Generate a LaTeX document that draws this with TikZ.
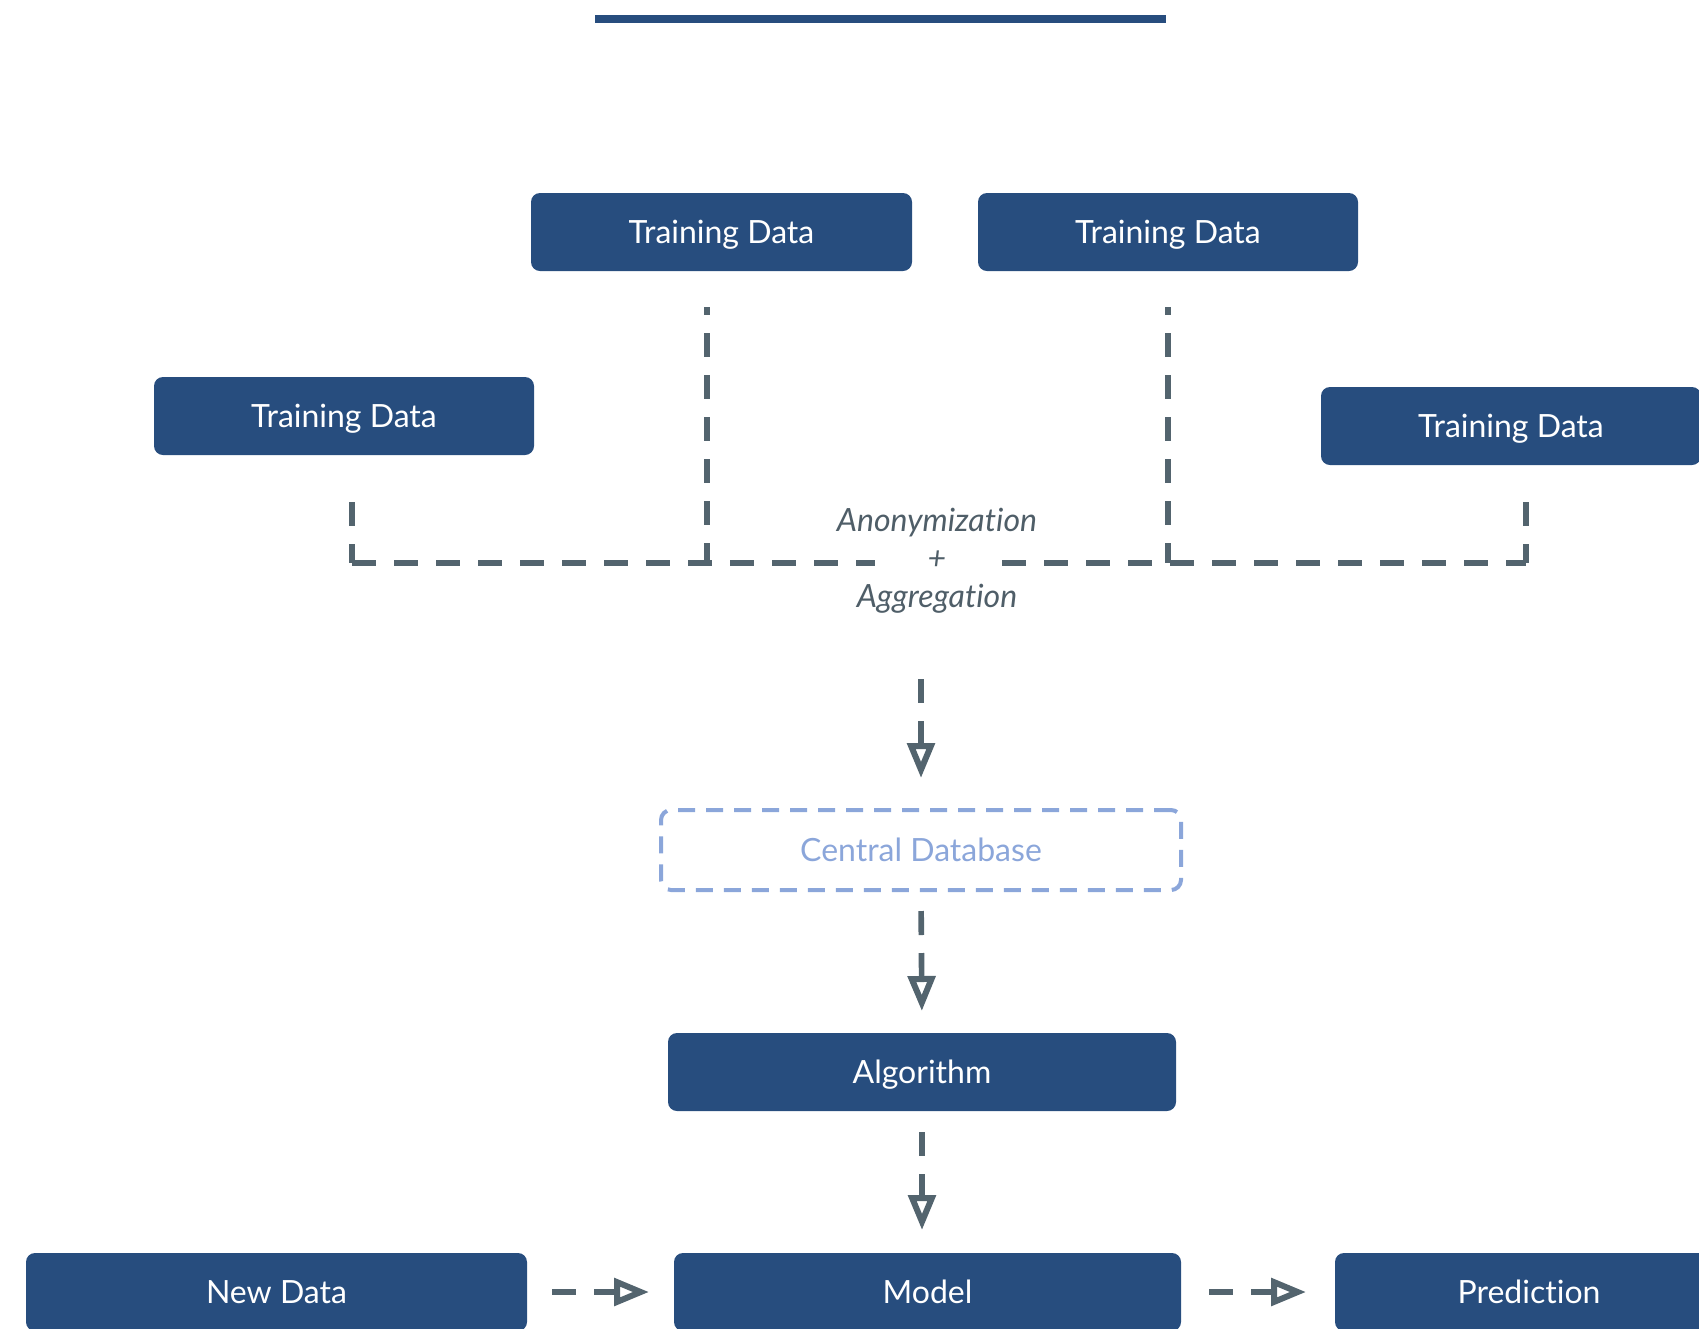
\documentclass[tikz,border=0pt]{standalone}
\usepackage{fontspec}
\setmainfont{Lato}[Ligatures=NoCommon]
\usetikzlibrary{arrows.meta}
\definecolor{boxblue}{HTML}{274D7E}
\definecolor{linegray}{HTML}{53646E}
\definecolor{dbblue}{HTML}{8BA6DA}
\definecolor{labgray}{HTML}{4F5E68}
\begin{document}
\begin{tikzpicture}[x=0.5pt,y=-0.5pt,
  box/.style={fill=boxblue, rounded corners=4.5pt, text=white, minimum height=39pt,
    inner sep=0pt, outer sep=0pt, text height=11.6pt, text depth=0pt,
    font=\fontsize{16}{19}\selectfont},
  bus/.style={draw=linegray, line width=2.9pt, dash pattern=on 12pt off 9pt},
  flow/.style={draw=linegray, line width=2.8pt, dash pattern=on 12pt off 9pt,
    -{Triangle[open, length=17.5pt, width=13.5pt, line width=3pt]}}
]
\useasboundingbox (0,0) rectangle (1699,1329);

% title bar
\fill[boxblue] (595,15) rectangle (1166,23);

% nodes
\node[box, minimum width=190pt] (tdL)  at (344,416)    {Training Data};
\node[box, minimum width=190.5pt] (tdM1) at (721.5,232) {Training Data};
\node[box, minimum width=190pt] (tdM2) at (1168,232)   {Training Data};
\node[box, minimum width=190pt] (tdR)  at (1511,426)   {Training Data};

\node[text=labgray, align=center, inner sep=0pt,
  font=\fontsize{16}{19}\selectfont\itshape] (agg) at (937,561)
  {Anonymization\\+\\Aggregation};

\node[draw=dbblue, line width=2pt, dash pattern=on 8.5pt off 5.5pt, rounded corners=5pt,
  minimum width=260pt, minimum height=40pt, inner sep=0pt, outer sep=0pt, text=dbblue,
  text height=11.6pt, text depth=0pt,
  font=\fontsize{16}{19}\selectfont] (cdb) at (921,850) {Central Database};

\node[box, minimum width=254pt] (alg)   at (922,1072)   {Algorithm};
\node[box, minimum width=253.5pt] (model) at (927.5,1292) {Model};
\node[box, minimum width=250.5pt] (newd)  at (276.5,1292) {New Data};
\node[box, minimum width=194pt] (pred)  at (1529,1292)  {Prediction};

% bus coordinates
\coordinate (bL)   at (352,563);
\coordinate (bM1)  at (707,563);
\coordinate (bM2)  at (1168,563);
\coordinate (bR)   at (1526,563);
\coordinate (gapL) at (875,563);
\coordinate (gapR) at (1002,563);
\coordinate (a1s)  at (921,679);

% collection lines
\draw[bus, shorten <=23.5pt] (tdL.south -| bL) -- (bL);
\draw[bus] (bL) -- (gapL);
\draw[bus, dash phase=8pt, shorten <=18pt] (tdM1.south -| bM1) -- (bM1);
\draw[bus, dash phase=8pt, shorten <=18pt] (tdM2.south -| bM2) -- (bM2);
\draw[bus] (gapR) -- (bR);
\draw[bus, shorten <=18.5pt] (tdR.south -| bR) -- (bR);

% flow arrows
\draw[flow, shorten >=16pt] (a1s) -- (cdb.north);
\draw[flow, shorten <=10.5pt, shorten >=11pt] (cdb.south) -- (alg.north);
\draw[flow, shorten <=10.5pt, shorten >=11.5pt] (alg.south) -- (alg.south |- model.north);
\draw[flow, shorten <=12.5pt, shorten >=12.5pt] (newd.east) -- (model.west);
\draw[flow, shorten <=14pt, shorten >=14.5pt] (model.east) -- (pred.west);
\end{tikzpicture}
\end{document}
